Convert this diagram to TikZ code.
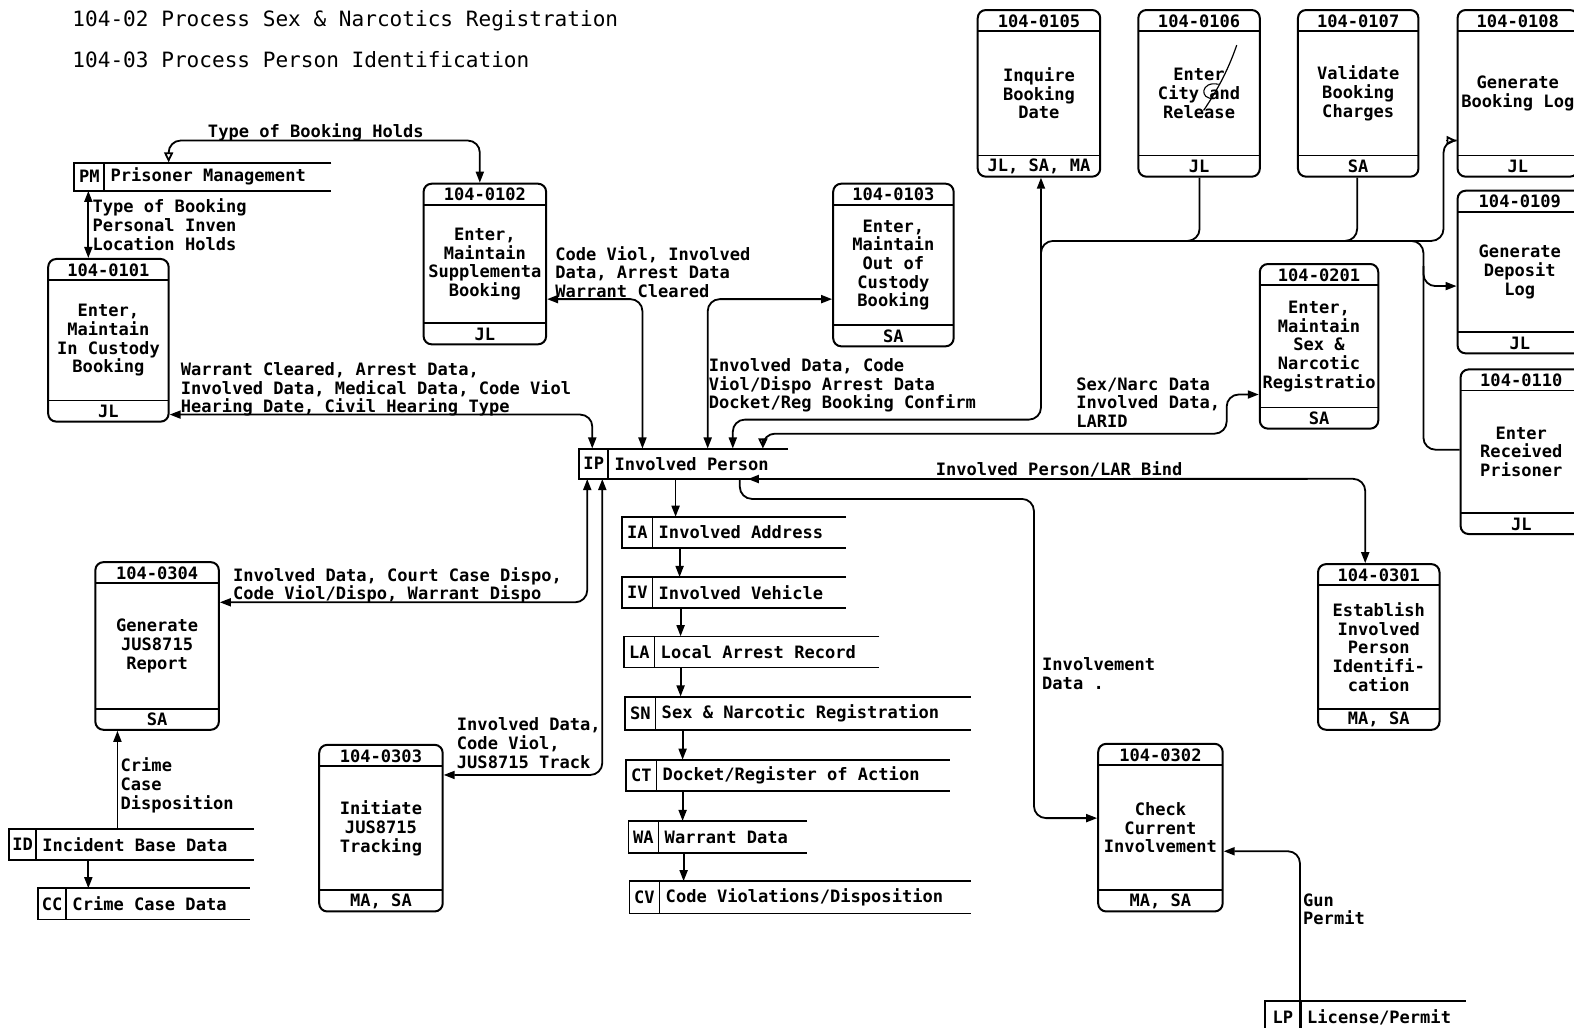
\documentclass[tikz,border=0pt]{standalone}
\usepackage{fontspec}
\newfontfamily\dfdfont{DejaVu Sans Mono}
\usetikzlibrary{arrows.meta,calc}
\tikzset{
  txt/.style={font=\dfdfont\bfseries\fontsize{17}{18.6}\selectfont, inner sep=0pt},
  lbl/.style={txt, anchor=north west, align=left},
  titletxt/.style={font=\dfdfont\fontsize{21}{24}\selectfont, inner sep=0pt, anchor=west},
  procshape/.style={draw, rounded corners=8pt, line width=2pt, inner sep=0pt},
  thin/.style={line width=1.8pt},
  flow/.style={line width=1.8pt, rounded corners=12pt},
  ft/.tip={Triangle[length=11pt,width=8pt]},
  ot/.tip={Triangle[open,length=10pt,width=9pt]}
}
\newcommand\procbox[8]{%
  \node[procshape, minimum width={(#4-#2)*1pt}, minimum height={(#5-#3)*1pt}] (#1) at ({(#2+#4)/2},{(#3+#5)/2}) {};
  \draw[thin] (#2,#3+21) -- (#4,#3+21);
  \draw[thin] (#2,#5-21) -- (#4,#5-21);
  \node[txt] at ({(#2+#4)/2},#3+11) {#6};
  \node[txt, align=center] at ({(#2+#4)/2},{(#3+#5)/2}) {#7};
  \node[txt] at ({(#2+#4)/2},#5-10) {#8};
}
\newcommand\store[8]{%
  \node[inner sep=0pt, minimum width={(#5-#2)*1pt}, minimum height={(#6-#3)*1pt}] (#1) at ({(#2+#5)/2},{(#3+#6)/2}) {};
  \draw[thin] (#5,#3) -- (#2,#3) -- (#2,#6) -- (#5,#6);
  \draw[thin] (#4,#3) -- (#4,#6);
  \node[txt] at ({(#2+#4)/2},{(#3+#6)/2}) {#7};
  \node[txt, anchor=west] at (#4+6,{(#3+#6)/2}) {#8};
}
\begin{document}
\begin{tikzpicture}[x=1pt,y=-1pt]
\fill[white] (0,0) rectangle (1568,1024);
\clip (0,0) rectangle (1568,1024);

% titles
\node[titletxt] (t1) at (72,21) {104-02 Process Sex \& Narcotics Registration};
\node[titletxt] (t2) at (72,59) {104-03 Process Person Identification};

% process boxes
\procbox{p0101}{48}{258}{168}{420}{104-0101}{Enter,\\Maintain\\In Custody\\Booking}{JL}
\procbox{p0102}{422}{183}{544}{343}{104-0102}{Enter,\\Maintain\\Supplementa\\Booking}{JL}
\procbox{p0103}{830}{183}{950}{345}{104-0103}{Enter,\\Maintain\\Out of\\Custody\\Booking}{SA}
\procbox{p0105}{974}{10}{1096}{176}{104-0105}{Inquire\\Booking\\Date}{JL, SA, MA}
\procbox{p0106}{1134}{10}{1255}{176}{104-0106}{Enter\\City and\\Release}{JL}
\procbox{p0107}{1293}{10}{1413}{176}{104-0107}{Validate\\Booking\\Charges}{SA}
\procbox{p0108}{1452}{10}{1572}{176}{104-0108}{Generate\\Booking Log}{JL}
\procbox{p0109}{1452}{190}{1576}{352}{104-0109}{Generate\\Deposit\\Log}{JL}
\procbox{p0110}{1455}{368}{1576}{532}{104-0110}{Enter\\Received\\Prisoner}{JL}
\procbox{p0201}{1255}{263}{1373}{427}{104-0201}{Enter,\\Maintain\\Sex \&\\Narcotic\\Registratio}{SA}
\procbox{p0301}{1313}{562}{1434}{727}{104-0301}{Establish\\Involved\\Person\\Identifi-\\cation}{MA, SA}
\procbox{p0302}{1094}{741}{1218}{908}{104-0302}{Check\\Current\\Involvement}{MA, SA}
\procbox{p0303}{318}{742}{441}{908}{104-0303}{Initiate\\JUS8715\\Tracking}{MA, SA}
\procbox{p0304}{95}{560}{218}{727}{104-0304}{Generate\\JUS8715\\Report}{SA}

% scribble on 104-0106
\draw[line width=1.2pt] (1232,45) .. controls (1224,68) and (1214,88) .. (1199,110);
\draw[line width=1.1pt] (1214,84) .. controls (1196,80) and (1194,100) .. (1210,98);

% data stores
\store{px}{74}{162}{104}{330}{190}{PM}{Prisoner Management}
\store{ip}{577}{447}{606}{785}{477}{IP}{Involved Person}
\store{ia}{620}{515}{650}{843}{546}{IA}{Involved Address}
\store{iv}{620}{575}{650}{843}{606}{IV}{Involved Vehicle}
\store{la}{622}{634}{652}{876}{665}{LA}{Local Arrest Record}
\store{sn}{623}{694}{653}{967}{727}{SN}{Sex \& Narcotic Registration}
\store{ct}{624}{757}{654}{946}{788}{CT}{Docket/Register of Action}
\store{wa}{626}{818}{656}{804}{850}{WA}{Warrant Data}
\store{cv}{627}{878}{657}{967}{910}{CV}{Code Violations/Disposition}
\store{id}{9}{826}{36}{253}{857}{ID}{Incident Base Data}
\store{cc}{38}{885}{66}{249}{916}{CC}{Crime Case Data}
\store{lp}{1260}{997}{1296}{1460}{1030}{LP}{License/Permit}

% connectors
\draw[flow, ot-ft] (px.north -| 168,0) -- (168,140) -- (478,140) -- (p0102.north -| 478,0);
\draw[flow, ft-ft] (px.south -| 88,0) -- (p0101.north -| 88,0);
\draw[flow, ft-ft] (p0101.east |- 0,413) -- (590,413) -- (ip.north -| 590,0);
\draw[flow, ft-ft] (p0102.east |- 0,298) -- (640,298) -- (ip.north -| 640,0);
\draw[flow, ft-ft] (ip.north -| 705,0) -- (705,298) -- (p0103.west |- 0,298);
\draw[flow, ft-ft] (ip.north -| 730,0) -- (730,418) -- (1037,418) -- (p0105.south -| 1037,0);
\draw[flow] (1037,280) -- (1037,240) -- (1120,240);
\draw[flow] (1100,240) -- (1438,240) -- (1438,140) -- (p0108.west |- 0,140);
\draw[ot-, line width=1.8pt] (p0108.west |- 0,140) -- (1440,140);
\draw[flow] (p0106.south -| 1195,0) -- (1195,240) -- (1150,240);
\draw[flow] (p0107.south -| 1352,0) -- (1352,240) -- (1300,240);
\draw[flow, -ft] (1380,240) -- (1418,240) -- (1418,285) -- (p0109.west |- 0,285);
\draw[flow] (1418,265) -- (1418,448) -- (p0110.west |- 0,448);
\draw[flow, ot-ft] (ip.north -| 760,0) -- (760,432) -- (1222,432) -- (1222,393) -- (p0201.west |- 0,393);
\draw[flow, ft-ft] (ip.south -| 745,0) -- (1360,477) -- (p0301.north -| 1360,0);
\draw[flow, -ft] (ip.south -| 737,0) -- (737,497) -- (1030,497) -- (1030,815) -- (p0302.west |- 0,815);
\draw[flow, ft-ft] (ip.south -| 585,0) -- (585,600) -- (p0304.east |- 0,600);
\draw[flow, ft-ft] (ip.south -| 600,0) -- (600,772) -- (p0303.east |- 0,772);
\draw[flow, -ft] (id.north -| 117,0) -- (p0304.south -| 117,0);
\draw[flow, -ft] (id.south -| 88,0) -- (cc.north -| 88,0);
\draw[flow, -ft] (lp.south -| 1295,0) -- (1295,848) -- (p0302.east |- 0,848);
\draw[flow, -ft] (ip.south -| 673,0) -- (ia.north -| 673,0);
\draw[flow, -ft] (ia.south -| 677,0) -- (iv.north -| 677,0);
\draw[flow, -ft] (iv.south -| 678,0) -- (la.north -| 678,0);
\draw[flow, -ft] (la.south -| 678,0) -- (sn.north -| 678,0);
\draw[flow, -ft] (sn.south -| 680,0) -- (ct.north -| 680,0);
\draw[flow, -ft] (ct.south -| 680,0) -- (wa.north -| 680,0);
\draw[flow, -ft] (wa.south -| 681,0) -- (cv.north -| 681,0);

% connector labels
\node[lbl] (l1) at (207,123) {Type of Booking Holds};
\node[lbl] (l2) at (92,198) {Type of Booking\\Personal Inven\\Location Holds};
\node[lbl] (l3) at (180,361) {Warrant Cleared, Arrest Data,\\Involved Data, Medical Data, Code Viol\\Hearing Date, Civil Hearing Type};
\node[lbl] (l4) at (553,245) {Code Viol, Involved\\Data, Arrest Data\\Warrant Cleared};
\node[lbl] (l5) at (706,357) {Involved Data, Code\\Viol/Dispo Arrest Data\\Docket/Reg Booking Confirm};
\node[lbl] (l6) at (1072,376) {Sex/Narc Data\\Involved Data,\\LARID};
\node[lbl] (l7) at (932,460) {Involved Person/LAR Bind};
\node[lbl] (l8) at (1038,655) {Involvement\\Data .};
\node[lbl] (l9) at (232,565) {Involved Data, Court Case Dispo,\\Code Viol/Dispo, Warrant Dispo};
\node[lbl] (l10) at (455,715) {Involved Data,\\Code Viol,\\JUS8715 Track};
\node[lbl] (l11) at (120,755) {Crime\\Case\\Disposition};
\node[lbl] (l12) at (1298,890) {Gun\\Permit};
\end{tikzpicture}
\end{document}
